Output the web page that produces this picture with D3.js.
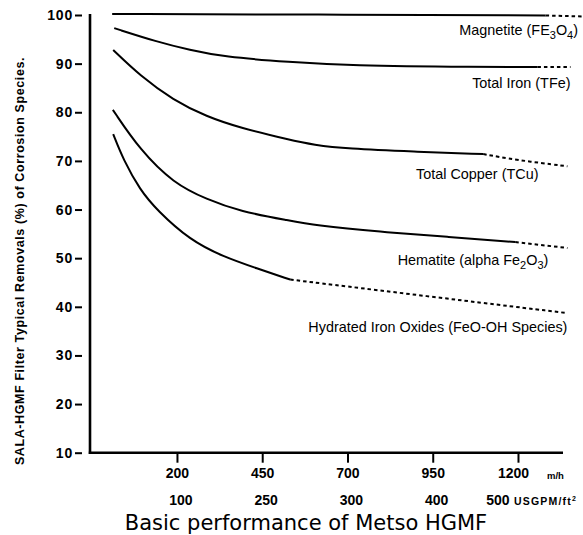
<!DOCTYPE html>
<html>
<head>
<meta charset="utf-8">
<script src="https://cdn.jsdelivr.net/npm/d3@7"></script>
<style>
body { margin: 0; background: #fff; }
text { font-family: "Liberation Sans", Arial, sans-serif; }
</style>
</head>
<body>
<div id="chart"></div>
<script>
var width = 583;
var height = 535;

// flow in m/h, removal in %
var xTicks = [200, 450, 700, 950, 1200];
var usgpmLabels = ["100", "250", "300", "400", "500"];
var yTicks = [10, 20, 30, 40, 50, 60, 70, 80, 90, 100];

// each series: [m/h, %] ; points after solidEnd are drawn dotted
var magnetite = [[10, 100.2], [600, 100.1], [1281, 99.9], [1392, 99.7]];
var totalIron = [[16, 97.3], [141, 94.5], [238, 92.8], [335, 91.4], [532, 90.3], [699, 89.6], [1090, 89.3], [1257, 89.3], [1354, 89.3]];
var totalCopper = [[13, 92.8], [92, 87.5], [189, 82.5], [287, 79.1], [385, 76.8], [532, 74.3], [600, 73.3], [699, 72.5], [893, 71.9], [1098, 71.4], [1193, 70.2], [1345, 68.9]];
var hematite = [[12, 80.5], [92, 72.2], [190, 65.4], [287, 62.1], [385, 59.6], [532, 57.7], [600, 56.8], [796, 55.4], [992, 54.4], [1192, 53.3], [1345, 52.1]];
var hydrated = [[13, 75.5], [43, 70.2], [92, 64.0], [141, 59.9], [238, 53.7], [336, 50.3], [434, 47.9], [532, 45.6], [943, 42.1], [1345, 38.7]];

var series = [
	{data: magnetite, solidEnd: 2},
	{data: totalIron, solidEnd: 7},
	{data: totalCopper, solidEnd: 9},
	{data: hematite, solidEnd: 9},
	{data: hydrated, solidEnd: 7}
];

var svg = d3.select('#chart').append('svg')
	.attr("width", width)
	.attr("height", height);

svg.append("rect").attr("width", width).attr("height", height).attr("fill", "#fff");

//scalers
var x = d3.scaleLinear()
	.domain([-55, 1332])
	.range([90, 563]);
var y = d3.scaleLinear()
	.domain([10, 100])
	.range([452.7, 15]);

// axis lines
svg.append("line")
	.attr("x1", x(-55)).attr("x2", x(-55))
	.attr("y1", y(100) - 1).attr("y2", y(10) + 1.2)
	.attr("stroke", "#000").attr("stroke-width", 2.6);
svg.append("line")
	.attr("x1", x(-55) - 1.2).attr("x2", x(1332))
	.attr("y1", y(10)).attr("y2", y(10))
	.attr("stroke", "#000").attr("stroke-width", 2.6);

// y ticks (dash between label and axis)
var yAxis = svg.append("g")
	.attr("transform", "translate(82,0)")
	.call(d3.axisLeft(y).tickValues(yTicks).tickSize(7).tickPadding(2));
yAxis.select(".domain").remove();
yAxis.selectAll(".tick line").attr("stroke", "#000").attr("stroke-width", 2);
yAxis.selectAll(".tick text")
	.attr("fill", "#000")
	.style("font-family", "'Liberation Sans', Arial, sans-serif")
	.style("font-size", "14px")
	.style("font-weight", "bold")
	.style("letter-spacing", "0.8px");

// x ticks, m/h row
var xAxis = svg.append("g")
	.attr("transform", "translate(0," + y(10) + ")")
	.call(d3.axisBottom(x).tickValues(xTicks).tickFormat(d3.format("d")).tickSize(10).tickPadding(5));
xAxis.select(".domain").remove();
xAxis.selectAll(".tick line").attr("stroke", "#000").attr("stroke-width", 2);
xAxis.selectAll(".tick text")
	.attr("fill", "#000")
	.attr("dx", function(d){ return d == 1200 ? -5 : 0; })
	.style("font-family", "'Liberation Sans', Arial, sans-serif")
	.style("font-size", "14px")
	.style("font-weight", "bold");

// USGPM row
svg.selectAll(".usgpm")
	.data(usgpmLabels)
	.enter()
	.append("text")
	.attr("class", "usgpm")
	.attr("x", function(d, i){ return x(xTicks[i]) + (i == 4 ? -20 : 4); })
	.attr("y", 505)
	.attr("text-anchor", "middle")
	.style("font-size", "14px")
	.style("font-weight", "bold")
	.text(function(d){ return d; });

svg.append("text")
	.attr("x", 547).attr("y", 479)
	.style("font-size", "9.5px").style("font-weight", "bold")
	.text("m/h");
svg.append("text")
	.attr("x", 514).attr("y", 505)
	.style("font-size", "10.5px").style("font-weight", "bold")
	.style("letter-spacing", "1.2px")
	.html('USGPM/ft<tspan font-size="7" dy="-4">2</tspan>');

// y title
svg.append("text")
	.attr("transform", "translate(24,261) rotate(-90)")
	.attr("text-anchor", "middle")
	.style("font-size", "12.5px")
	.style("font-weight", "bold")
	.style("letter-spacing", "0.6px")
	.text("SALA-HGMF Filter Typical Removals (%) of Corrosion Species.");

// curves
var solidLine = d3.line()
	.x(function(d){ return x(d[0]); })
	.y(function(d){ return y(d[1]); })
	.curve(d3.curveBasis);
var dashLine = d3.line()
	.x(function(d){ return x(d[0]); })
	.y(function(d){ return y(d[1]); })
	.curve(d3.curveBasis);

series.forEach(function(s){
	svg.append("path")
		.attr("d", solidLine(s.data.slice(0, s.solidEnd + 1)))
		.attr("fill", "none")
		.attr("stroke", "#000")
		.attr("stroke-width", 2);
	svg.append("path")
		.attr("d", dashLine(s.data.slice(s.solidEnd)))
		.attr("fill", "none")
		.attr("stroke", "#000")
		.attr("stroke-width", 2)
		.attr("stroke-dasharray", "3.5,3");
});

// curve labels
function label(xv, yv, anchor, size, html){
	svg.append("text")
		.attr("x", x(xv)).attr("y", y(yv))
		.attr("text-anchor", anchor)
		.style("font-size", size + "px")
		.html(html);
}
var sub = function(n){ return '<tspan font-size="11" dy="4">' + n + '</tspan><tspan dy="-4">'; };
label(1376, 95.9, "end", 14.4, 'Magnetite (FE' + sub(3) + 'O</tspan>' + sub(4) + ')</tspan>');
label(1354, 85.0, "end", 14.4, 'Total Iron (TFe)');
label(1260, 66.3, "end", 14.4, 'Total Copper (TCu)');
label(1289, 48.6, "end", 14.4, 'Hematite (alpha Fe' + sub(2) + 'O</tspan>' + sub(3) + ')</tspan>');
label(1345, 34.8, "end", 14.4, 'Hydrated Iron Oxides (FeO-OH Species)');

// title
svg.append("text")
	.attr("x", 306).attr("y", 530)
	.attr("text-anchor", "middle")
	.style("font-family", "'DejaVu Sans', sans-serif")
	.style("font-size", "21px")
	.text("Basic performance of Metso HGMF");
</script>
</body>
</html>
